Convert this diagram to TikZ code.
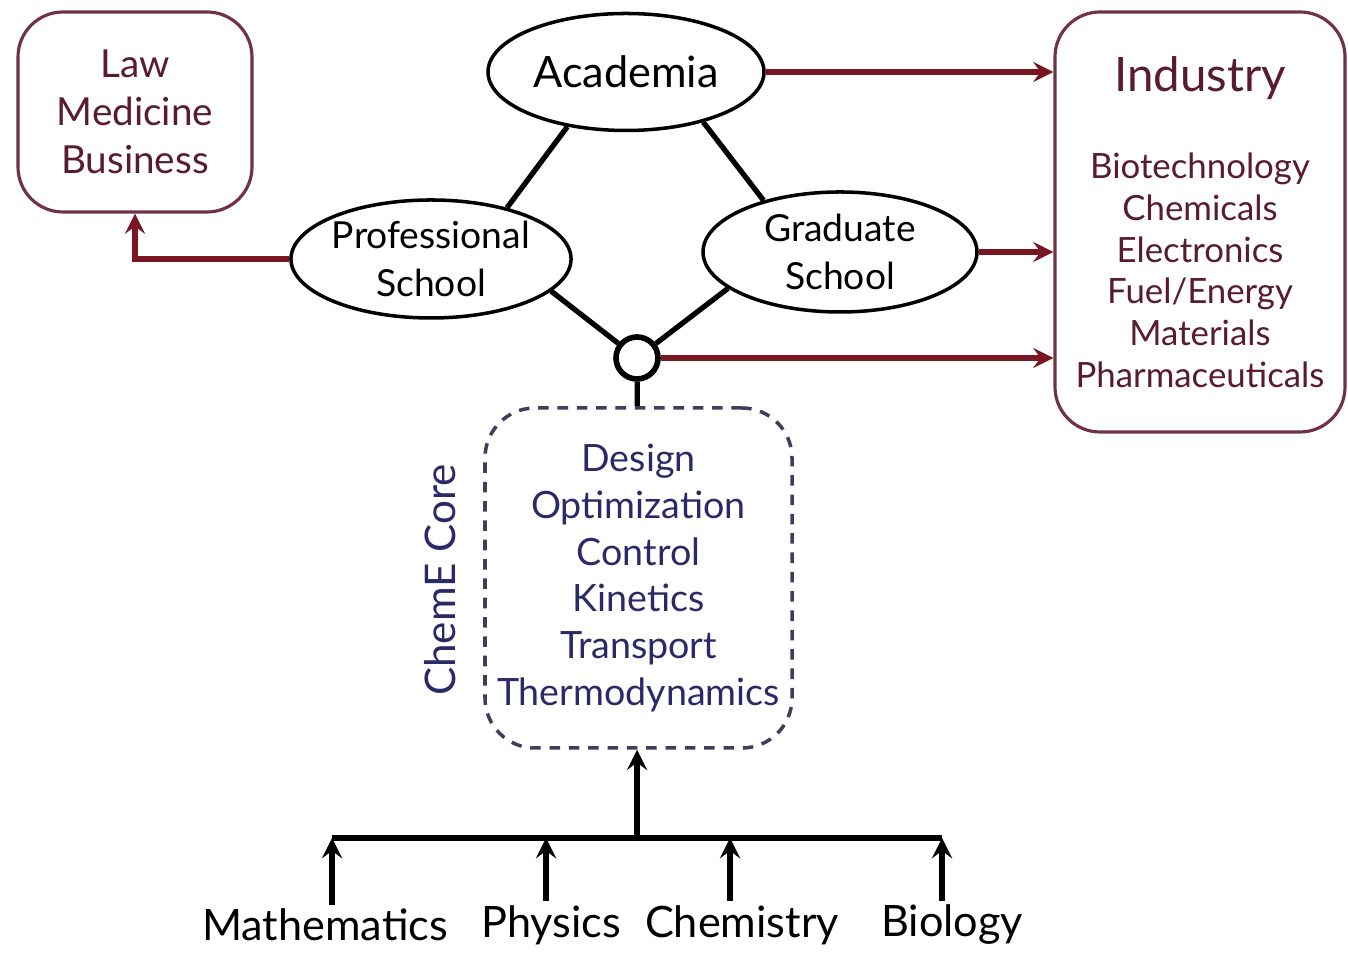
\documentclass[tikz,border=0pt]{standalone}
\usepackage{fontspec}
\setmainfont{Lato}
\usetikzlibrary{shapes.geometric,arrows.meta}
\definecolor{wine}{RGB}{122,22,34}
\definecolor{boxline}{RGB}{112,52,64}
\definecolor{boxtext}{RGB}{88,28,44}
\definecolor{navytext}{RGB}{42,42,104}
\definecolor{coreline}{RGB}{62,62,92}
\begin{document}
\begin{tikzpicture}[
    >=stealth,
    school/.style={draw, ellipse, line width=1pt, align=center, inner sep=0pt,
                   font=\fontsize{10.6}{13.6}\selectfont},
    field/.style={draw=boxline, line width=0.9pt, rounded corners=0.45cm, align=center,
                  text=boxtext},
    link/.style={line width=1.5pt},
    feed/.style={->, wine, line width=1.5pt},
    subject/.style={font=\fontsize{12.3}{15}\selectfont, inner sep=1pt}
]
  \useasboundingbox (0,0) rectangle (13.48,9.53);

  % schools
  \node[school, minimum width=2.76cm, minimum height=1.17cm, font=\fontsize{12.3}{15}\selectfont] (aca) at (6.26,8.81) {Academia};
  \node[school, minimum width=2.77cm, minimum height=1.18cm] (prof) at (4.31,6.94) {Professional\\School};
  \node[school, minimum width=2.74cm, minimum height=1.20cm] (grad) at (8.40,7.01) {Graduate\\School};
  \node[draw, circle, line width=1.6pt, minimum size=0.42cm, inner sep=0pt] (hub) at (6.37,5.95) {};

  \draw[link] (aca.223) -- (prof.34);
  \draw[link] (aca.327) -- (grad.146);
  \draw[link] (prof.-15) -- (hub);
  \draw[link] (grad.198) -- (hub);

  % careers
  \node[field, minimum width=2.34cm, minimum height=2.00cm, font=\fontsize{11}{13.6}\selectfont] (law) at (1.35,8.41) {Law\\Medicine\\Business};
  \node[field, minimum width=2.90cm, minimum height=4.20cm, font=\fontsize{9.9}{11.9}\selectfont] (ind) at (12.00,7.31)
    {{\fontsize{13.5}{16}\selectfont Industry}\\[13pt]Biotechnology\\Chemicals\\Electronics\\Fuel/Energy\\Materials\\Pharmaceuticals};

  \draw[feed] (aca) -- (aca -| ind.west);
  \draw[feed] (grad) -- (grad -| ind.west);
  \draw[feed] (hub) -- (hub -| ind.west);
  \draw[feed] (prof.west) -| (law.south);

  % core
  \node[draw=coreline, dash pattern=on 3pt off 2.5pt, line width=1pt, rounded corners=0.5cm, minimum width=3.07cm, minimum height=3.40cm,
        align=center, text=navytext, font=\fontsize{10.7}{13.3}\selectfont] (core) at (6.385,3.75)
    {Design\\Optimization\\Control\\Kinetics\\Transport\\Thermodynamics};
  \node[rotate=90, text=navytext, font=\fontsize{12}{15}\selectfont] (corelabel) at (4.40,3.73) {ChemE Core};
  \draw[link] (hub) -- (core);

  % foundations
  \node[subject] (math) at (3.25,0.28) {Mathematics};
  \node[subject] (phys) at (5.51,0.28) {Physics};
  \node[subject] (chem) at (7.42,0.28) {Chemistry};
  \node[subject] (bio) at (9.52,0.28) {Biology};
  \coordinate (jm) at (3.32,1.15);
  \coordinate (jp) at (5.46,1.15);
  \coordinate (jc) at (7.30,1.15);
  \coordinate (jb) at (9.42,1.15);
  \coordinate (jcore) at (6.37,1.15);

  \draw[link] (jm) -- (jb);
  \draw[->, link] (jcore) -- (core.south -| jcore);
  \draw[->, link] (jm |- math.north) -- (jm);
  \draw[->, link] (jp |- phys.north) -- (jp);
  \draw[->, link] (jc |- chem.north) -- (jc);
  \draw[->, link] (jb |- bio.north) -- (jb);
\end{tikzpicture}
\end{document}
